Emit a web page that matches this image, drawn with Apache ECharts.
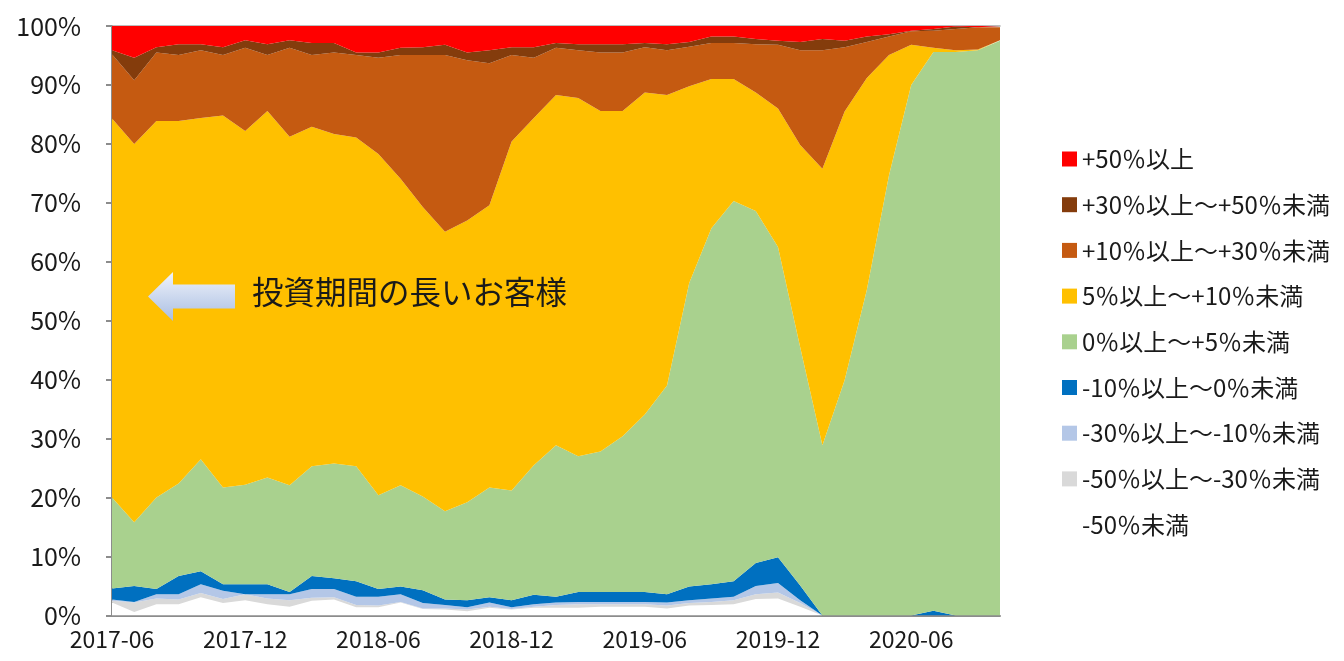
<!DOCTYPE html>
<html>
<head>
<meta charset="utf-8">
<script src="https://cdn.jsdelivr.net/npm/echarts@6/dist/echarts.min.js"></script>
<style>
html,body{margin:0;padding:0;background:#fff;}
#chart{width:1344px;height:661px;}
</style>
</head>
<body>
<div id="chart"></div>
<script>
const months = ['2017-06','2017-07','2017-08','2017-09','2017-10','2017-11','2017-12',
'2018-01','2018-02','2018-03','2018-04','2018-05','2018-06','2018-07','2018-08','2018-09','2018-10','2018-11','2018-12',
'2019-01','2019-02','2019-03','2019-04','2019-05','2019-06','2019-07','2019-08','2019-09','2019-10','2019-11','2019-12',
'2020-01','2020-02','2020-03','2020-04','2020-05','2020-06','2020-07','2020-08','2020-09','2020-10'];

const yTicks = [0,10,20,30,40,50,60,70,80,90,100];

// series values (%), bottom of the stack first
const lossOver50 = [2.2,0.6,1.9,1.9,3.1,2.1,2.6,1.9,1.5,2.5,2.7,1.4,1.4,2.2,1.1,1.0,0.7,1.3,1.0,1.3,1.3,1.3,1.5,1.5,1.5,1.2,1.7,1.8,1.9,2.8,2.9,1.5,0,0,0,0,0,0,0,0,0];
const loss30to50 = [0.3,1.6,1.0,0.8,0.7,0.7,1.0,1.0,1.1,0.5,0.4,0.4,0.3,0.1,0.1,0.2,0.3,0.2,0.1,0.2,0.5,0.6,0.4,0.4,0.4,0.5,0.4,0.5,0.7,0.8,1.0,0.6,0,0,0,0,0,0,0,0,0];
const loss10to30 = [0.2,0.1,0.7,0.9,1.5,1.4,0.0,0.7,1.0,1.5,1.4,1.4,1.5,1.3,0.9,0.6,0.4,0.7,0.3,0.4,0.4,0.4,0.4,0.4,0.4,0.5,0.5,0.6,0.6,1.4,1.6,0.5,0,0,0,0,0,0,0,0,0];
const loss0to10  = [1.9,2.7,0.9,3.1,2.2,1.1,1.7,1.7,0.4,2.2,1.8,2.6,1.3,1.3,2.2,0.9,1.2,0.9,1.2,1.6,1.0,1.7,1.7,1.7,1.7,1.4,2.3,2.4,2.6,3.9,4.4,2.5,0,0,0,0,0,0.8,0,0,0];
const gain0to5   = [15.4,10.8,15.5,15.7,19.0,16.4,16.9,18.1,18.1,18.6,19.5,19.5,15.9,17.2,15.9,15.0,16.6,18.6,18.6,22.0,25.7,23.0,23.8,26.4,30.1,35.4,51.5,60.4,64.5,59.7,52.6,40.4,28.9,39.9,55.2,74.7,90.0,94.8,95.6,95.9,97.5];
const gain5to10  = [64.3,64.2,63.9,61.5,57.9,63.1,60.0,62.2,59.1,57.6,55.9,55.8,57.9,52.0,49.1,47.4,47.8,47.9,59.2,58.9,59.4,60.8,57.8,55.2,54.6,49.3,33.4,25.3,20.7,20.1,23.5,34.3,46.9,45.6,36.0,20.4,6.8,0.7,0.3,0.1,0.1];
const gain10to30 = [10.9,10.8,11.6,11.2,11.5,10.3,14.1,9.5,15.1,12.2,13.8,14.0,16.3,21.0,25.8,30.0,27.2,24.1,14.7,10.2,8.0,8.1,9.9,9.9,7.7,7.6,6.7,6.1,6.1,8.2,10.8,16.1,20.1,10.9,6.1,3.1,2.3,2.9,3.6,3.8,2.2];
const gain30to50 = [0.7,3.8,0.9,1.8,1.0,1.3,1.3,1.8,1.3,2.0,1.6,0.4,0.9,1.2,1.3,1.7,1.3,2.2,1.3,1.8,0.8,1.0,1.4,1.4,0.7,1.0,0.8,1.1,1.1,0.9,0.7,1.4,1.9,1.1,0.9,0.4,0.1,0.3,0.4,0.0,0.1];
const gainOver50 = [4.1,5.4,3.6,3.1,3.1,3.6,2.4,3.1,2.4,2.9,2.9,4.5,4.5,3.7,3.6,3.2,4.5,4.1,3.6,3.6,2.9,3.1,3.1,3.1,2.9,3.1,2.7,1.8,1.8,2.2,2.5,2.7,2.2,2.5,1.8,1.4,0.8,0.5,0.1,0.2,0.1];

const seriesNames = ['-50％未満','-50％以上～-30％未満','-30％以上～-10％未満','-10％以上～0％未満','0％以上～+5％未満','5％以上～+10％未満','+10％以上～+30％未満','+30％以上～+50％未満','+50％以上'];
const seriesData = [lossOver50, loss30to50, loss10to30, loss0to10, gain0to5, gain5to10, gain10to30, gain30to50, gainOver50];
const seriesColors = ['#FFFFFF','#D9D9D9','#B4C7E7','#0070C0','#A9D18E','#FFC000','#C55A11','#843C0C','#FF0000'];

const annotationText = '投資期間の長いお客様';

const chart = echarts.init(document.getElementById('chart'));
const FONT = '"Noto Sans CJK JP", "Noto Sans", sans-serif';

const series = seriesNames.map((n, i) => ({
  name: n,
  type: 'line',
  stack: 'total',
  data: seriesData[i],
  symbol: 'none',
  showSymbol: false,
  lineStyle: { width: 0, color: seriesColors[i] },
  itemStyle: { color: seriesColors[i] },
  areaStyle: { color: seriesColors[i], opacity: 1 },
  emphasis: { disabled: true },
  z: 2
}));

chart.setOption({
  animation: false,
  textStyle: { fontFamily: FONT },
  grid: { left: 112, right: 344, top: 26, bottom: 45.5, containLabel: false },
  legend: {
    orient: 'vertical',
    left: 1057,
    top: 142,
    itemWidth: 15,
    itemHeight: 15,
    itemGap: 21.7,
    icon: 'rect',
    data: seriesNames.slice().reverse(),
    textStyle: { fontSize: 24, color: '#1a1a1a', fontFamily: FONT, lineHeight: 24, padding: [0,0,0,0] },
    selectedMode: false
  },
  xAxis: [{
    type: 'category',
    data: months,
    boundaryGap: false,
    axisLine: { lineStyle: { color: '#8c8c8c', width: 2 } },
    axisTick: { show: false },
    axisLabel: { interval: 5, fontSize: 23, color: '#1a1a1a', margin: 12, fontFamily: FONT },
    splitLine: { show: false }
  }, {
    type: 'category',
    data: months,
    boundaryGap: false,
    position: 'top',
    axisLine: { show: true, lineStyle: { color: '#a6a6a6', width: 1.5 } },
    axisTick: { show: false },
    axisLabel: { show: false },
    splitLine: { show: false }
  }],
  yAxis: {
    type: 'value',
    min: 0,
    max: 100,
    interval: 10,
    axisLine: { show: true, lineStyle: { color: '#8c8c8c', width: 2 } },
    axisTick: { show: true, length: 6, lineStyle: { color: '#8c8c8c', width: 2 } },
    axisLabel: { formatter: v => v + '%', fontSize: 25, color: '#1a1a1a', margin: 31, fontFamily: FONT },
    splitLine: { show: false }
  },
  graphic: [
    {
      type: 'polygon',
      z: 100,
      shape: { points: [[148,296.5],[173,272],[173,284.5],[235,284.5],[235,308.5],[173,308.5],[173,321]] },
      style: {
        fill: new echarts.graphic.LinearGradient(0, 0, 0, 1, [
          { offset: 0, color: '#f0f3fa' },
          { offset: 1, color: '#a9bee3' }
        ]),
        stroke: null
      }
    },
    {
      type: 'text',
      z: 100,
      left: 252,
      top: 276,
      style: { text: annotationText, fontSize: 31.5, fill: '#1a1a1a', fontFamily: FONT }
    }
  ],
  series: series
});
</script>
</body>
</html>
